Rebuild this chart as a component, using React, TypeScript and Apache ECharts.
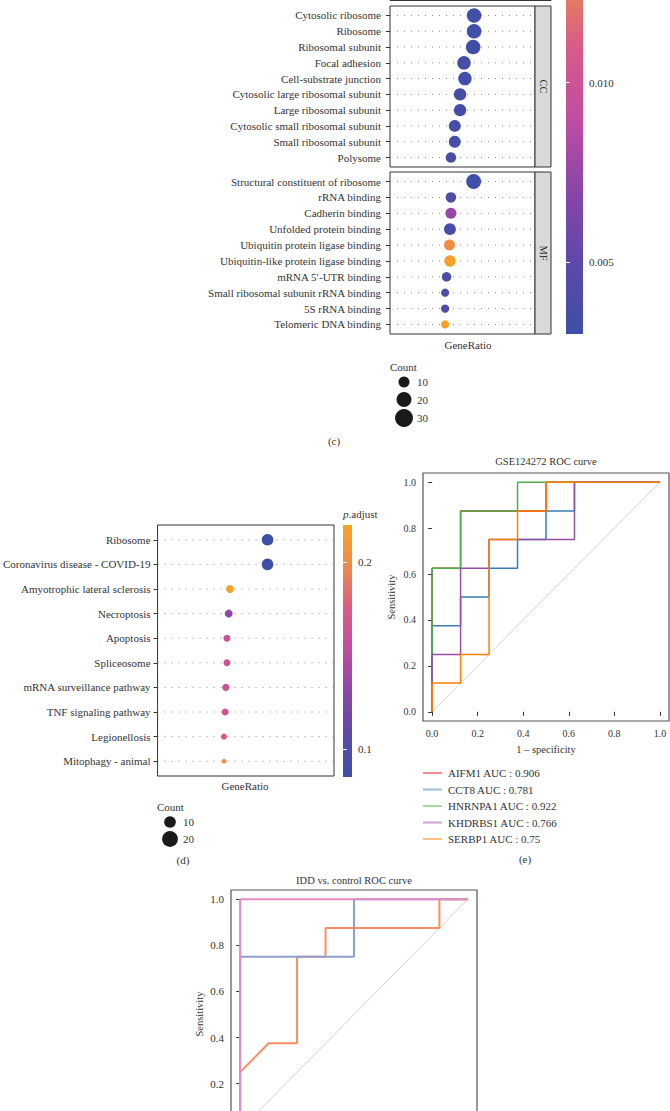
import React, { useEffect, useRef } from "react";
import * as echarts from "echarts";

const FONT = '"Liberation Serif", "DejaVu Serif", "Times New Roman", serif';
const INK = "#333333";
const PALETTE = ["#3E4FA7", "#5E49A8", "#8946A8", "#C04DA2", "#D85B88", "#EC8A4C", "#F6A623"];

// ---------- (c) GO enrichment dot plot ----------
const ccTerms = [
  "Cytosolic ribosome", "Ribosome", "Ribosomal subunit", "Focal adhesion", "Cell-substrate junction",
  "Cytosolic large ribosomal subunit", "Large ribosomal subunit", "Cytosolic small ribosomal subunit",
  "Small ribosomal subunit", "Polysome",
];
const ccRatio = [0.174, 0.174, 0.172, 0.153, 0.155, 0.145, 0.145, 0.134, 0.134, 0.126];
const ccCount = [19, 19, 19, 16, 16, 13, 13, 12, 12, 9];
const ccPadj = [0.0031, 0.0031, 0.0032, 0.0033, 0.0033, 0.0034, 0.0034, 0.0035, 0.0035, 0.0036];

const mfTerms = [
  "Structural constituent of ribosome", "rRNA binding", "Cadherin binding", "Unfolded protein binding",
  "Ubiquitin protein ligase binding", "Ubiquitin-like protein ligase binding", "mRNA 5\u2032-UTR binding",
  "Small ribosomal subunit rRNA binding", "5S rRNA binding", "Telomeric DNA binding",
];
const mfRatio = [0.173, 0.126, 0.126, 0.124, 0.123, 0.124, 0.117, 0.114, 0.114, 0.114];
const mfCount = [20, 9, 10, 12, 10, 11, 7, 5, 5, 5];
const mfPadj = [0.0031, 0.0038, 0.0075, 0.0036, 0.0133, 0.0146, 0.004, 0.0042, 0.0042, 0.0148];

const goColorRange = [0.003, 0.015];
const goColorTicks = [0.005, 0.01];
const goLegendCounts = [10, 20, 30];

// ---------- (d) KEGG dot plot ----------
const keggTerms = [
  "Ribosome", "Coronavirus disease - COVID-19", "Amyotrophic lateral sclerosis", "Necroptosis", "Apoptosis",
  "Spliceosome", "mRNA surveillance pathway", "TNF signaling pathway", "Legionellosis", "Mitophagy - animal",
];
const keggRatio = [0.187, 0.187, 0.123, 0.121, 0.118, 0.118, 0.116, 0.115, 0.113, 0.113];
const keggCount = [10, 10, 4, 4, 3, 3, 3, 3, 2, 1];
const keggPadj = [0.086, 0.087, 0.217, 0.132, 0.159, 0.163, 0.166, 0.167, 0.171, 0.2];
const keggColorRange = [0.085, 0.22];
const keggColorTicks = [0.1, 0.2];
const keggLegendCounts = [10, 20];

// ---------- (e) GSE124272 ROC ----------
const rocTicks = [0, 0.2, 0.4, 0.6, 0.8, 1.0];
const eGenes = ["AIFM1", "CCT8", "HNRNPA1", "KHDRBS1", "SERBP1"];
const eAuc = [0.906, 0.781, 0.922, 0.766, 0.75];
const eColors = ["#E41A1C", "#377EB8", "#4DAF4A", "#984EA3", "#FF7F00"];
const eFpr = [
  [0, 0, 0.125, 0.125, 0.5, 0.5, 1],
  [0, 0, 0.125, 0.125, 0.25, 0.25, 0.375, 0.375, 0.5, 0.5, 0.625, 0.625, 1],
  [0, 0, 0.125, 0.125, 0.375, 0.375, 1],
  [0, 0, 0.125, 0.125, 0.25, 0.25, 0.625, 0.625, 1],
  [0, 0, 0.125, 0.125, 0.25, 0.25, 0.375, 0.375, 0.5, 0.5, 1],
];
const eTpr = [
  [0, 0.625, 0.625, 0.875, 0.875, 1, 1],
  [0, 0.375, 0.375, 0.5, 0.5, 0.625, 0.625, 0.75, 0.75, 0.875, 0.875, 1, 1],
  [0, 0.625, 0.625, 0.875, 0.875, 1, 1],
  [0, 0.25, 0.25, 0.625, 0.625, 0.75, 0.75, 1, 1],
  [0, 0.125, 0.125, 0.25, 0.25, 0.75, 0.75, 0.875, 0.875, 1, 1],
];

// ---------- (f) IDD vs. control ROC ----------
const fYTicksShown = [0.2, 0.4, 0.6, 0.8, 1.0];
const fColors = ["#FC8D62", "#8DA0CB", "#E78AC3"];
const fFpr = [
  [0, 0, 0.125, 0.25, 0.25, 0.375, 0.375, 0.875, 0.875, 1],
  [0, 0, 0.5, 0.5, 1],
  [0, 0, 1],
];
const fTpr = [
  [0, 0.25, 0.375, 0.375, 0.75, 0.75, 0.875, 0.875, 1, 1],
  [0, 0.75, 0.75, 1, 1],
  [0, 1, 1],
];

// page offset: the figure is a crop, so the canvas starts above the window
const OY = 100;
const Y = (y: number) => y + OY;

const goSize = (c: number) => 1.5 + 3.0 * Math.sqrt(c);
const keggSize = (c: number) => 1.5 + 3.2 * Math.sqrt(c);

const gradient = () =>
  new echarts.graphic.LinearGradient(
    0, 1, 0, 0,
    PALETTE.map((c, i) => ({ offset: i / (PALETTE.length - 1), color: c }))
  );

const termAxis = (gi: number, terms: string[], margin: number) => ({
  type: "value", gridIndex: gi, min: 0.4, max: terms.length + 0.6, inverse: true,
  axisLine: { show: false }, splitLine: { show: false },
  axisTick: { show: true, length: 4, lineStyle: { color: INK }, customValues: terms.map((_, i) => i + 1) },
  axisLabel: {
    customValues: terms.map((_, i) => i + 1),
    formatter: (v: number) => terms[Math.round(v) - 1] ?? "",
    margin, color: INK, fontFamily: FONT, fontSize: 11,
  },
});

const hiddenX = (gi: number, min: number, max: number) => ({ type: "value", gridIndex: gi, min, max, show: false });

const cbarAxis = (gi: number, range: number[], ticks: number[], pos: string, labels: boolean, fmt: (v: number) => string) => ({
  type: "value", gridIndex: gi, position: pos, min: range[0], max: range[1], z: 5,
  axisLine: { show: false }, splitLine: { show: false },
  axisTick: { show: true, inside: true, length: 4, customValues: ticks, lineStyle: { color: "#ffffff", width: 1 } },
  axisLabel: labels
    ? { show: true, customValues: ticks, formatter: fmt, margin: 6, color: INK, fontFamily: FONT, fontSize: 11 }
    : { show: false },
});

const rocAxis = (gi: number, fs: number, labelValues: number[] | null) => ({
  type: "value", gridIndex: gi, min: -0.04, max: 1.04,
  axisLine: { show: false }, splitLine: { show: false },
  axisTick: { show: true, length: 4, customValues: rocTicks, lineStyle: { color: INK } },
  axisLabel: labelValues
    ? { customValues: labelValues, formatter: (v: number) => v.toFixed(1), margin: 7, color: INK, fontFamily: FONT, fontSize: fs }
    : { show: false },
});

const rowLines = (xi: number, yi: number, terms: string[]) => ({
  type: "custom", xAxisIndex: xi, yAxisIndex: yi, silent: true,
  data: terms.map((_, i) => [0, i + 1]),
  renderItem: (params: any, api: any) => {
    const cs = params.coordSys;
    const y = api.coord([0, api.value(1)])[1];
    return {
      type: "line",
      shape: { x1: cs.x, y1: y, x2: cs.x + cs.width, y2: y },
      style: { stroke: "#8a8a8a", lineWidth: 1, lineDash: [1, 6] },
    };
  },
});

const dots = (xi: number, yi: number, ratio: number[], count: number[], padj: number[], size: (c: number) => number) => ({
  type: "scatter", xAxisIndex: xi, yAxisIndex: yi, silent: true,
  data: ratio.map((r, i) => [r, i + 1, count[i], padj[i]]),
  symbolSize: (v: number[]) => size(v[2]),
  itemStyle: { opacity: 1 },
});

const colorbar = (xi: number, yi: number, range: number[]) => ({
  type: "custom", xAxisIndex: xi, yAxisIndex: yi, silent: true,
  data: [[0.5, range[0], range[1]]],
  renderItem: (params: any, api: any) => {
    const cs = params.coordSys;
    const top = api.coord([0.5, api.value(2)])[1];
    const bot = api.coord([0.5, api.value(1)])[1];
    return { type: "rect", shape: { x: cs.x, y: top, width: cs.width, height: bot - top }, style: { fill: gradient() } };
  },
});

const rocLine = (xi: number, yi: number, xs: number[], ys: number[], color: string, width: number, name: string) => ({
  type: "line", name, xAxisIndex: xi, yAxisIndex: yi, silent: true, showSymbol: false, symbol: "none",
  data: xs.map((x, j) => [x, ys[j]]),
  lineStyle: { color, width }, itemStyle: { color },
});

const txt = (text: string, x: number, y: number, o: any = {}) => ({
  type: "text", x, y: Y(y), rotation: o.rotation ?? 0, silent: true, z: 50,
  style: {
    text, fill: o.color ?? INK, fontFamily: FONT, fontSize: o.size ?? 11,
    align: o.align ?? "center", verticalAlign: "middle", ...(o.rich ? { rich: o.rich } : {}),
  },
});

const box = (x: number, y: number, w: number, h: number, fill: string) => ({
  type: "rect", silent: true, shape: { x, y: Y(y), width: w, height: h },
  style: { fill, stroke: INK, lineWidth: 1 },
});

export default function App() {
  const ref = useRef<HTMLDivElement>(null);

  useEffect(() => {
    document.documentElement.style.overflow = "hidden";
    document.body.style.overflow = "hidden";
    if (!ref.current) return;
    const chart = echarts.init(ref.current, undefined, { renderer: "svg" });

    const graphics: any[] = [];
    // BP facet bottom (cut off at top of the crop)
    graphics.push(box(390, -40, 145, 40.5, "none"));
    graphics.push(box(535, -40, 16, 40.5, "#D9D9D9"));
    // facet strips
    graphics.push(box(535, 6, 16, 161, "#D9D9D9"));
    graphics.push(box(535, 172, 16, 162, "#D9D9D9"));
    graphics.push(txt("CC", 543, 86.5, { rotation: -Math.PI / 2, size: 10.5 }));
    graphics.push(txt("MF", 543, 253, { rotation: -Math.PI / 2, size: 10.5 }));
    graphics.push(txt("GeneRatio", 468, 345));
    // Count legend (c)
    graphics.push(txt("Count", 390, 367, { align: "left" }));
    const cRows = [382, 399.5, 418];
    goLegendCounts.forEach((c, i) => {
      graphics.push({ type: "circle", silent: true, shape: { cx: 404, cy: Y(cRows[i]), r: goSize(c) / 2 }, style: { fill: "#1a1a1a" } });
      graphics.push(txt(String(c), 417, cRows[i], { align: "left" }));
    });
    graphics.push(txt("(c)", 334, 441));

    // (d)
    graphics.push(txt("GeneRatio", 245, 786));
    graphics.push(txt("Count", 157, 807, { align: "left" }));
    const dRows = [822, 839];
    keggLegendCounts.forEach((c, i) => {
      graphics.push({ type: "circle", silent: true, shape: { cx: 170, cy: Y(dRows[i]), r: keggSize(c) / 2 }, style: { fill: "#1a1a1a" } });
      graphics.push(txt(String(c), 183, dRows[i], { align: "left" }));
    });
    graphics.push(txt("(d)", 183, 860));
    graphics.push(txt("{i|p}.adjust", 343, 514, {
      align: "left",
      rich: { i: { fontStyle: "italic", fontFamily: FONT, fontSize: 11, fill: INK } },
    }));

    // (e)
    graphics.push(txt("GSE124272 ROC curve", 546, 461, { size: 10.5 }));
    graphics.push(txt("Sensitivity", 391, 597, { rotation: Math.PI / 2, size: 10.5 }));
    graphics.push(txt("1 \u2013 specificity", 546, 749, { size: 10.5 }));
    eGenes.forEach((g, i) => {
      const y = 773 + i * 16.5;
      graphics.push({ type: "line", silent: true, shape: { x1: 423, y1: Y(y), x2: 442, y2: Y(y) }, style: { stroke: eColors[i], lineWidth: 2, opacity: 0.5 } });
      graphics.push(txt(`${g} AUC : ${eAuc[i]}`, 448, y, { align: "left" }));
    });
    graphics.push(txt("(e)", 525, 859));

    // (f)
    graphics.push(txt("IDD vs. control ROC curve", 354, 880, { size: 10.5 }));
    graphics.push(txt("Sensitivity", 199, 1014, { rotation: Math.PI / 2, size: 10.5 }));

    const series: any[] = [
      rowLines(0, 0, ccTerms),
      rowLines(1, 1, mfTerms),
      dots(0, 0, ccRatio, ccCount, ccPadj, goSize),
      dots(1, 1, mfRatio, mfCount, mfPadj, goSize),
      rowLines(3, 4, keggTerms),
      dots(3, 4, keggRatio, keggCount, keggPadj, keggSize),
      colorbar(2, 2, goColorRange),
      colorbar(4, 5, keggColorRange),
      rocLine(5, 7, [0, 1], [0, 1], "#BDBDBD", 0.7, "diag-e"),
      ...eGenes.map((g, i) => rocLine(5, 7, eFpr[i], eTpr[i], eColors[i], 1.5, g)),
      rocLine(6, 8, [0, 1], [0, 1], "#BDBDBD", 0.7, "diag-f"),
      ...fColors.map((c, i) => rocLine(6, 8, fFpr[i], fTpr[i], c, 2, "f" + i)),
    ];

    const plotBorder = { show: true, borderColor: INK, borderWidth: 1, backgroundColor: "transparent" };
    const rocBorder = { show: true, borderColor: "#555555", borderWidth: 1.2, backgroundColor: "transparent" };

    chart.setOption({
      animation: false,
      textStyle: { fontFamily: FONT },
      grid: [
        { left: 390, top: Y(6), width: 145, height: 161, ...plotBorder },
        { left: 390, top: Y(172), width: 145, height: 162, ...plotBorder },
        { left: 566, top: Y(-97), width: 17, height: 431, show: false },
        { left: 156, top: Y(525), width: 178, height: 251, ...plotBorder },
        { left: 343, top: Y(525), width: 9, height: 252, show: false },
        { left: 423, top: Y(473), width: 246, height: 248, ...rocBorder },
        { left: 231, top: Y(890), width: 246, height: 249, ...rocBorder },
      ],
      xAxis: [
        hiddenX(0, 0, 0.3),
        hiddenX(1, 0, 0.3),
        hiddenX(2, 0, 1),
        hiddenX(3, 0, 0.3),
        hiddenX(4, 0, 1),
        rocAxis(5, 10, rocTicks),
        rocAxis(6, 11, null),
      ],
      yAxis: [
        termAxis(0, ccTerms, 9),
        termAxis(1, mfTerms, 9),
        cbarAxis(2, goColorRange, goColorTicks, "right", true, (v: number) => v.toFixed(3)),
        cbarAxis(2, goColorRange, goColorTicks, "left", false, (v: number) => String(v)),
        termAxis(3, keggTerms, 7),
        cbarAxis(4, keggColorRange, keggColorTicks, "right", true, (v: number) => v.toFixed(1)),
        cbarAxis(4, keggColorRange, keggColorTicks, "left", false, (v: number) => String(v)),
        rocAxis(5, 10, rocTicks),
        rocAxis(6, 11, fYTicksShown),
      ],
      visualMap: [
        { type: "continuous", show: false, seriesIndex: [2, 3], dimension: 3, min: goColorRange[0], max: goColorRange[1], inRange: { color: PALETTE } },
        { type: "continuous", show: false, seriesIndex: [5], dimension: 3, min: keggColorRange[0], max: keggColorRange[1], inRange: { color: PALETTE } },
      ],
      series,
      graphic: graphics,
    });

    return () => chart.dispose();
  }, []);

  return (
    <div
      ref={ref}
      style={{ position: "absolute", left: 0, top: -OY, width: 670, height: 1111 + OY + 80, background: "#ffffff" }}
    />
  );
}
